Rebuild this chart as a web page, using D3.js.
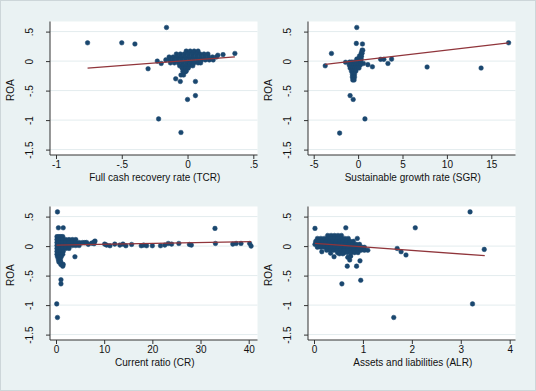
<!DOCTYPE html>
<html>
<head>
<meta charset="utf-8">
<script src="https://cdn.jsdelivr.net/npm/d3@7"></script>
<style>
  body { margin: 0; background: #eaf2f3; }
  text { font-family: "Liberation Sans", Arial, sans-serif; }
</style>
</head>
<body>
<div id="chart"></div>
<script>
// y axis (shared by all four panels)
const roaTicks = [-1.5, -1, -0.5, 0, 0.5];
const roaLabels = ["-1.5", "-1", "-.5", "0", ".5"];

// Panel 1: Full cash recovery rate (TCR)
const tcrTicks = [-1, -0.5, 0, 0.5];
const tcrLabels = ["-1", "-.5", "0", ".5"];
const tcrOutliers = [[-0.76,0.31],[-0.50,0.31],[-0.40,0.29],[-0.16,0.57],[-0.30,-0.13],[-0.23,0.0],
  [-0.20,-0.04],[-0.09,-0.30],[-0.055,-0.345],[0.06,-0.345],[0.06,-0.585],[0.0,-0.65],[-0.22,-0.98],
  [-0.05,-1.21],[0.36,0.13],[0.27,0.11],[0.23,0.10],[-0.05,-0.236],[-0.03,-0.236],[-0.017,-0.18]];
const tcrCluster = [
  [0.17, [-0.01,0.02,0.05,0.08]],
  [0.12, [-0.085,-0.055,-0.025,0.005,0.035,0.065,0.095,0.125,0.155]],
  [0.07, [-0.14,-0.11,-0.08,-0.05,-0.02,0.01,0.04,0.07,0.10,0.13,0.16,0.19,0.22]],
  [0.02, [-0.165,-0.135,-0.105,-0.075,-0.045,-0.015,0.015,0.045,0.075,0.105,0.135,0.165,0.195]],
  [-0.03, [-0.13,-0.10,-0.07,-0.04,-0.01,0.02,0.05,0.08,0.10]],
  [-0.08, [-0.06,-0.035,-0.01,0.015,0.04]],
  [-0.12, [-0.04,-0.015,0.005]],
  [-0.17, [-0.035,-0.01]]
];
const tcrFit = [[-0.76,-0.118],[0.36,0.073]];

// Panel 2: Sustainable growth rate (SGR)
const sgrTicks = [-5, 0, 5, 10, 15];
const sgrLabels = ["-5", "0", "5", "10", "15"];
const sgrOutliers = [[-3.7,-0.08],[-3.0,0.13],[-2.08,-1.22],[-0.9,-0.585],[-0.55,-0.65],[-0.15,0.57],
  [-0.2,0.30],[0.49,0.29],[0.77,-0.98],[1.1,-0.06],[1.61,-0.096],[2.54,0.03],[2.9,0.03],[3.36,-0.04],
  [3.77,0.034],[7.77,-0.10],[13.85,-0.118],[16.95,0.31],[-1.41,-0.02],[0.6,-0.04]];
const sgrCluster = [
  [0.185, [0.45,0.52]],
  [0.135, [0.35,0.45]],
  [0.084, [0.15,0.38]],
  [0.034, [-0.15,0.1,0.35]],
  [-0.017, [-0.95,-0.7,-0.45,-0.2,0.05,0.3]],
  [-0.067, [-1.0,-0.75,-0.5,-0.25,0.0,0.25]],
  [-0.118, [-0.9,-0.65,-0.4,-0.15,0.1]],
  [-0.169, [-0.75,-0.5,-0.25]],
  [-0.22, [-0.65,-0.4]],
  [-0.27, [-0.65,-0.4]],
  [-0.32, [-0.6,-0.45]]
];
const sgrFit = [[-3.7,-0.056],[16.95,0.31]];

// Panel 3: Current ratio (CR)
const crTicks = [0, 10, 20, 30, 40];
const crLabels = ["0", "10", "20", "30", "40"];
const crOutliers = [[0.3,0.58],[0.5,0.31],[1.5,0.31],[0.15,-0.98],[0.3,-1.21],[1.03,-0.57],[1.03,-0.64],
  [3.93,-0.18],[33.0,0.30],[4.3,0.034],[6.35,0.062],[7.94,0.073],[10.1,0.034],[10.5,0.017],[11.2,0.006],
  [12.2,0.034],[13.25,0.017],[13.9,0.034],[14.5,0.006],[15.7,0.028],[17.7,0.006],[18.2,0.017],[18.8,0.006],
  [20.0,0.006],[21.7,0.006],[22.6,0.017],[23.3,0.045],[24.0,0.034],[25.5,0.045],[27.7,0.028],[28.1,0.017],
  [33.1,0.045],[36.7,0.034],[37.4,0.045],[38.4,0.045],[40.2,0.045],[40.5,0.0],
  [6.0,0.06],[6.7,0.03],[7.4,0.05],[8.1,0.085],[7.9,0.04]];
const crCluster = [
  [0.16, [0.2,0.6,1.0,1.4]],
  [0.11, [0.2,0.6,1.0,1.4,2.0,2.7,3.4,4.1]],
  [0.06, [0.2,0.6,1.0,1.4,2.0,2.7,3.4,4.1,4.8,5.5]],
  [0.01, [0.2,0.6,1.0,1.4,2.0,2.7,3.4,4.1,4.8]],
  [-0.04, [0.2,0.6,1.0,1.4,2.0,2.7]],
  [-0.09, [0.2,0.6,1.0,1.5]],
  [-0.14, [0.2,0.6,1.0,1.4]],
  [-0.18, [0.3,0.7,1.1]],
  [-0.23, [0.5,0.9]],
  [-0.27, [0.6,1.0]],
  [-0.31, [1.0,1.5]],
  [-0.34, [1.4]]
];
const crFit = [[0.1,0.017],[40.5,0.075]];

// Panel 4: Assets and liabilities (ALR)
const alrTicks = [0, 1, 2, 3, 4];
const alrLabels = ["0", "1", "2", "3", "4"];
const alrOutliers = [[0.02,0.30],[0.65,0.31],[2.07,0.31],[3.19,0.58],[3.24,-0.98],[1.63,-1.21],[0.57,-0.64],
  [0.955,-0.58],[1.70,-0.04],[1.78,-0.095],[1.88,-0.15],[3.48,-0.056],[0.885,0.13],[0.34,-0.12],[0.41,-0.18],
  [0.16,-0.095],[0.69,-0.19],[0.73,-0.235],[0.75,-0.17],[0.68,-0.34],[0.87,-0.34],[0.94,-0.25]];
const alrCluster = [
  [0.18, [0.28,0.35,0.42,0.49,0.56]],
  [0.13, [0.07,0.14,0.21,0.28,0.35,0.42,0.49,0.56,0.63,0.70]],
  [0.08, [0.035,0.105,0.175,0.245,0.315,0.385,0.455,0.525,0.595,0.665,0.735,0.805]],
  [0.03, [0.02,0.09,0.16,0.23,0.30,0.37,0.44,0.51,0.58,0.65,0.72,0.79,0.86,0.93]],
  [-0.02, [0.07,0.14,0.21,0.28,0.35,0.42,0.49,0.56,0.63,0.70,0.77,0.84,0.91,0.98,1.03]],
  [-0.07, [0.26,0.33,0.40,0.47,0.54,0.61,0.68,0.75,0.82,0.89,0.96,1.03,1.10]],
  [-0.11, [0.48,0.55,0.62,0.69,0.76,0.83,0.90]],
  [-0.13, [0.52,0.59]]
];
const alrFit = [[0.02,0.045],[3.49,-0.163]];

const flatten = (outliers, cluster) =>
  outliers.concat(cluster.flatMap(([y, xs]) => xs.map(x => [x, y])));

const panels = [
  {title: "Full cash recovery rate (TCR)", ox: 0, oy: 0, domain: [-1, 0.5], range: [56, 253.3],
   ticks: tcrTicks, labels: tcrLabels, points: flatten(tcrOutliers, tcrCluster), fit: tcrFit},
  {title: "Sustainable growth rate (SGR)", ox: 258, oy: 0, domain: [-5, 15], range: [55.7, 233.3],
   ticks: sgrTicks, labels: sgrLabels, points: flatten(sgrOutliers, sgrCluster), fit: sgrFit},
  {title: "Current ratio (CR)", ox: 0, oy: 185, domain: [0, 40], range: [56, 248.7],
   ticks: crTicks, labels: crLabels, points: flatten(crOutliers, crCluster), fit: crFit},
  {title: "Assets and liabilities (ALR)", ox: 258, oy: 185, domain: [0, 4], range: [56, 251.7],
   ticks: alrTicks, labels: alrLabels, points: flatten(alrOutliers, alrCluster), fit: alrFit}
];

const width = 536, height = 391;
const plot = {left: 50, right: 257.5, top: 21.5, bottom: 155};

const svg = d3.select("#chart").append("svg")
    .attr("width", width).attr("height", height)
    .style("display", "block");

svg.append("rect")
    .attr("x", 0.5).attr("y", 0.5)
    .attr("width", width - 1).attr("height", height - 1)
    .attr("fill", "#eaf2f3")
    .attr("stroke", "#cdd6d9");

panels.forEach(p => {
    const g = svg.append("g").attr("transform", `translate(${p.ox},${p.oy})`);

    const xScale = d3.scaleLinear().domain(p.domain).range(p.range);
    const yScale = d3.scaleLinear().domain([-1.5, 0.5]).range([149.6, 31.6]);

    g.append("rect")
        .attr("x", plot.left).attr("y", plot.top)
        .attr("width", plot.right - plot.left).attr("height", plot.bottom - plot.top)
        .attr("fill", "#fff");

    // horizontal gridlines
    g.append("g").selectAll("line")
        .data(roaTicks)
        .enter().append("line")
        .attr("x1", plot.left).attr("x2", plot.right)
        .attr("y1", d => yScale(d)).attr("y2", d => yScale(d))
        .attr("stroke", "#e3ecee").attr("stroke-width", 1);

    // points
    g.append("g").selectAll("circle")
        .data(p.points)
        .enter().append("circle")
        .attr("cx", d => xScale(d[0]))
        .attr("cy", d => yScale(d[1]))
        .attr("r", 2.3)
        .attr("fill", "#1a476f")
        .attr("stroke", "#1a476f")
        .attr("stroke-width", 0.5);

    // fitted line
    g.append("path")
        .datum(p.fit)
        .attr("d", d3.line().x(d => xScale(d[0])).y(d => yScale(d[1])))
        .attr("fill", "none")
        .attr("stroke", "#90353b")
        .attr("stroke-width", 1.3);

    // axes
    const xAxis = d3.axisBottom(xScale)
        .tickValues(p.ticks)
        .tickFormat((d, i) => p.labels[i])
        .tickSize(4).tickSizeOuter(0).tickPadding(3);
    const xGroup = g.append("g")
        .attr("transform", `translate(0,${plot.bottom})`)
        .call(xAxis);
    xGroup.select(".domain").remove();
    xGroup.selectAll("line").attr("stroke", "#333");
    xGroup.selectAll("text")
        .attr("fill", "#111")
        .style("font-size", "10px")
        .attr("y", 6).attr("dy", "0.71em");

    const yAxis = d3.axisLeft(yScale)
        .tickValues(roaTicks)
        .tickFormat((d, i) => roaLabels[i])
        .tickSize(4).tickSizeOuter(0);
    const yGroup = g.append("g")
        .attr("transform", `translate(${plot.left},0)`)
        .call(yAxis);
    yGroup.select(".domain").remove();
    yGroup.selectAll("line").attr("stroke", "#333");
    yGroup.selectAll("text")
        .attr("fill", "#111")
        .style("font-size", "10px")
        .attr("x", 0).attr("dy", null)
        .attr("text-anchor", "middle")
        .attr("transform", "translate(-17,0) rotate(-90)");

    g.append("line")
        .attr("x1", plot.left).attr("x2", plot.left)
        .attr("y1", plot.top).attr("y2", plot.bottom)
        .attr("stroke", "#333");
    g.append("line")
        .attr("x1", plot.left).attr("x2", plot.right)
        .attr("y1", plot.bottom).attr("y2", plot.bottom)
        .attr("stroke", "#333");

    // titles
    g.append("text")
        .attr("x", (plot.left + plot.right) / 2 + 1)
        .attr("y", 180.5)
        .attr("text-anchor", "middle")
        .attr("fill", "#111")
        .style("font-size", "10px")
        .text(p.title);

    g.append("text")
        .attr("transform", `translate(14,${(plot.top + plot.bottom) / 2 + 2}) rotate(-90)`)
        .attr("text-anchor", "middle")
        .attr("fill", "#111")
        .style("font-size", "10px")
        .text("ROA");
});
</script>
</body>
</html>
